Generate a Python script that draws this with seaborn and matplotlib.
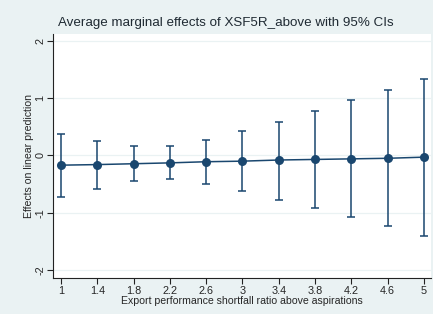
import seaborn as sns
import matplotlib.pyplot as plt
import pandas as pd

# values
ratio = [1, 1.4, 1.8, 2.2, 2.6, 3, 3.4, 3.8, 4.2, 4.6, 5]
effect = [-0.17, -0.16, -0.145, -0.13, -0.11, -0.10, -0.08, -0.07, -0.06, -0.05, -0.03]
ci_low = [-0.73, -0.58, -0.45, -0.42, -0.50, -0.62, -0.77, -0.92, -1.08, -1.23, -1.40]
ci_high = [0.38, 0.26, 0.17, 0.17, 0.27, 0.42, 0.59, 0.77, 0.96, 1.15, 1.34]
xticks = ratio
yticks = [-2, -1, 0, 1, 2]

navy = "#1a476f"
bg = "#eaf2f3"

if __name__ == "__main__":
    df = pd.DataFrame({"ratio": ratio, "effect": effect, "lo": ci_low, "hi": ci_high})

    sns.set_style("white")
    plt.rcParams["font.family"] = ["Liberation Sans", "DejaVu Sans"]

    fig = plt.figure(figsize=(4.33, 3.14), dpi=100, facecolor=bg)
    ax = fig.add_axes([53 / 433, 36 / 314, 378 / 433, 244 / 314])
    ax.set_facecolor("white")

    # confidence intervals
    ax.errorbar(df["ratio"], df["effect"],
                yerr=[df["effect"] - df["lo"], df["hi"] - df["effect"]],
                fmt="none", ecolor=navy, elinewidth=1.1, capsize=2.6, capthick=1.1, zorder=2)
    sns.lineplot(data=df, x="ratio", y="effect", color=navy, marker="o",
                 markersize=6.5, markeredgewidth=0, linewidth=1.1, ax=ax, zorder=3)

    ax.set_xlim(0.912, 5.077)
    ax.set_ylim(-2.14, 2.12)
    ax.set_xticks(xticks)
    ax.set_xticklabels([f"{t:g}" for t in xticks])
    ax.set_yticks(yticks)
    ax.set_yticklabels([str(t) for t in yticks], rotation=90, va="center")
    ax.grid(axis="y", color=bg, linewidth=0.9)
    ax.set_axisbelow(True)

    for s in ["top", "right"]:
        ax.spines[s].set_visible(False)
    for s in ["left", "bottom"]:
        ax.spines[s].set_color("#222222")
        ax.spines[s].set_linewidth(0.8)
    ax.tick_params(axis="both", direction="out", length=4, width=0.8, color="#222222",
                   labelsize=7.8, pad=1.5, left=True, bottom=True)

    ax.set_xlabel("Export performance shortfall ratio above aspirations", fontsize=7.6, labelpad=0)
    ax.set_ylabel("Effects on linear prediction", fontsize=7.6, labelpad=1)
    fig.text(226 / 433, 1 - 23 / 314, "Average marginal effects of XSF5R_above with 95% CIs",
             ha="center", va="center", fontsize=9.6, color="#1f2a33")

    fig.savefig("out.png", dpi=100, facecolor=bg)
